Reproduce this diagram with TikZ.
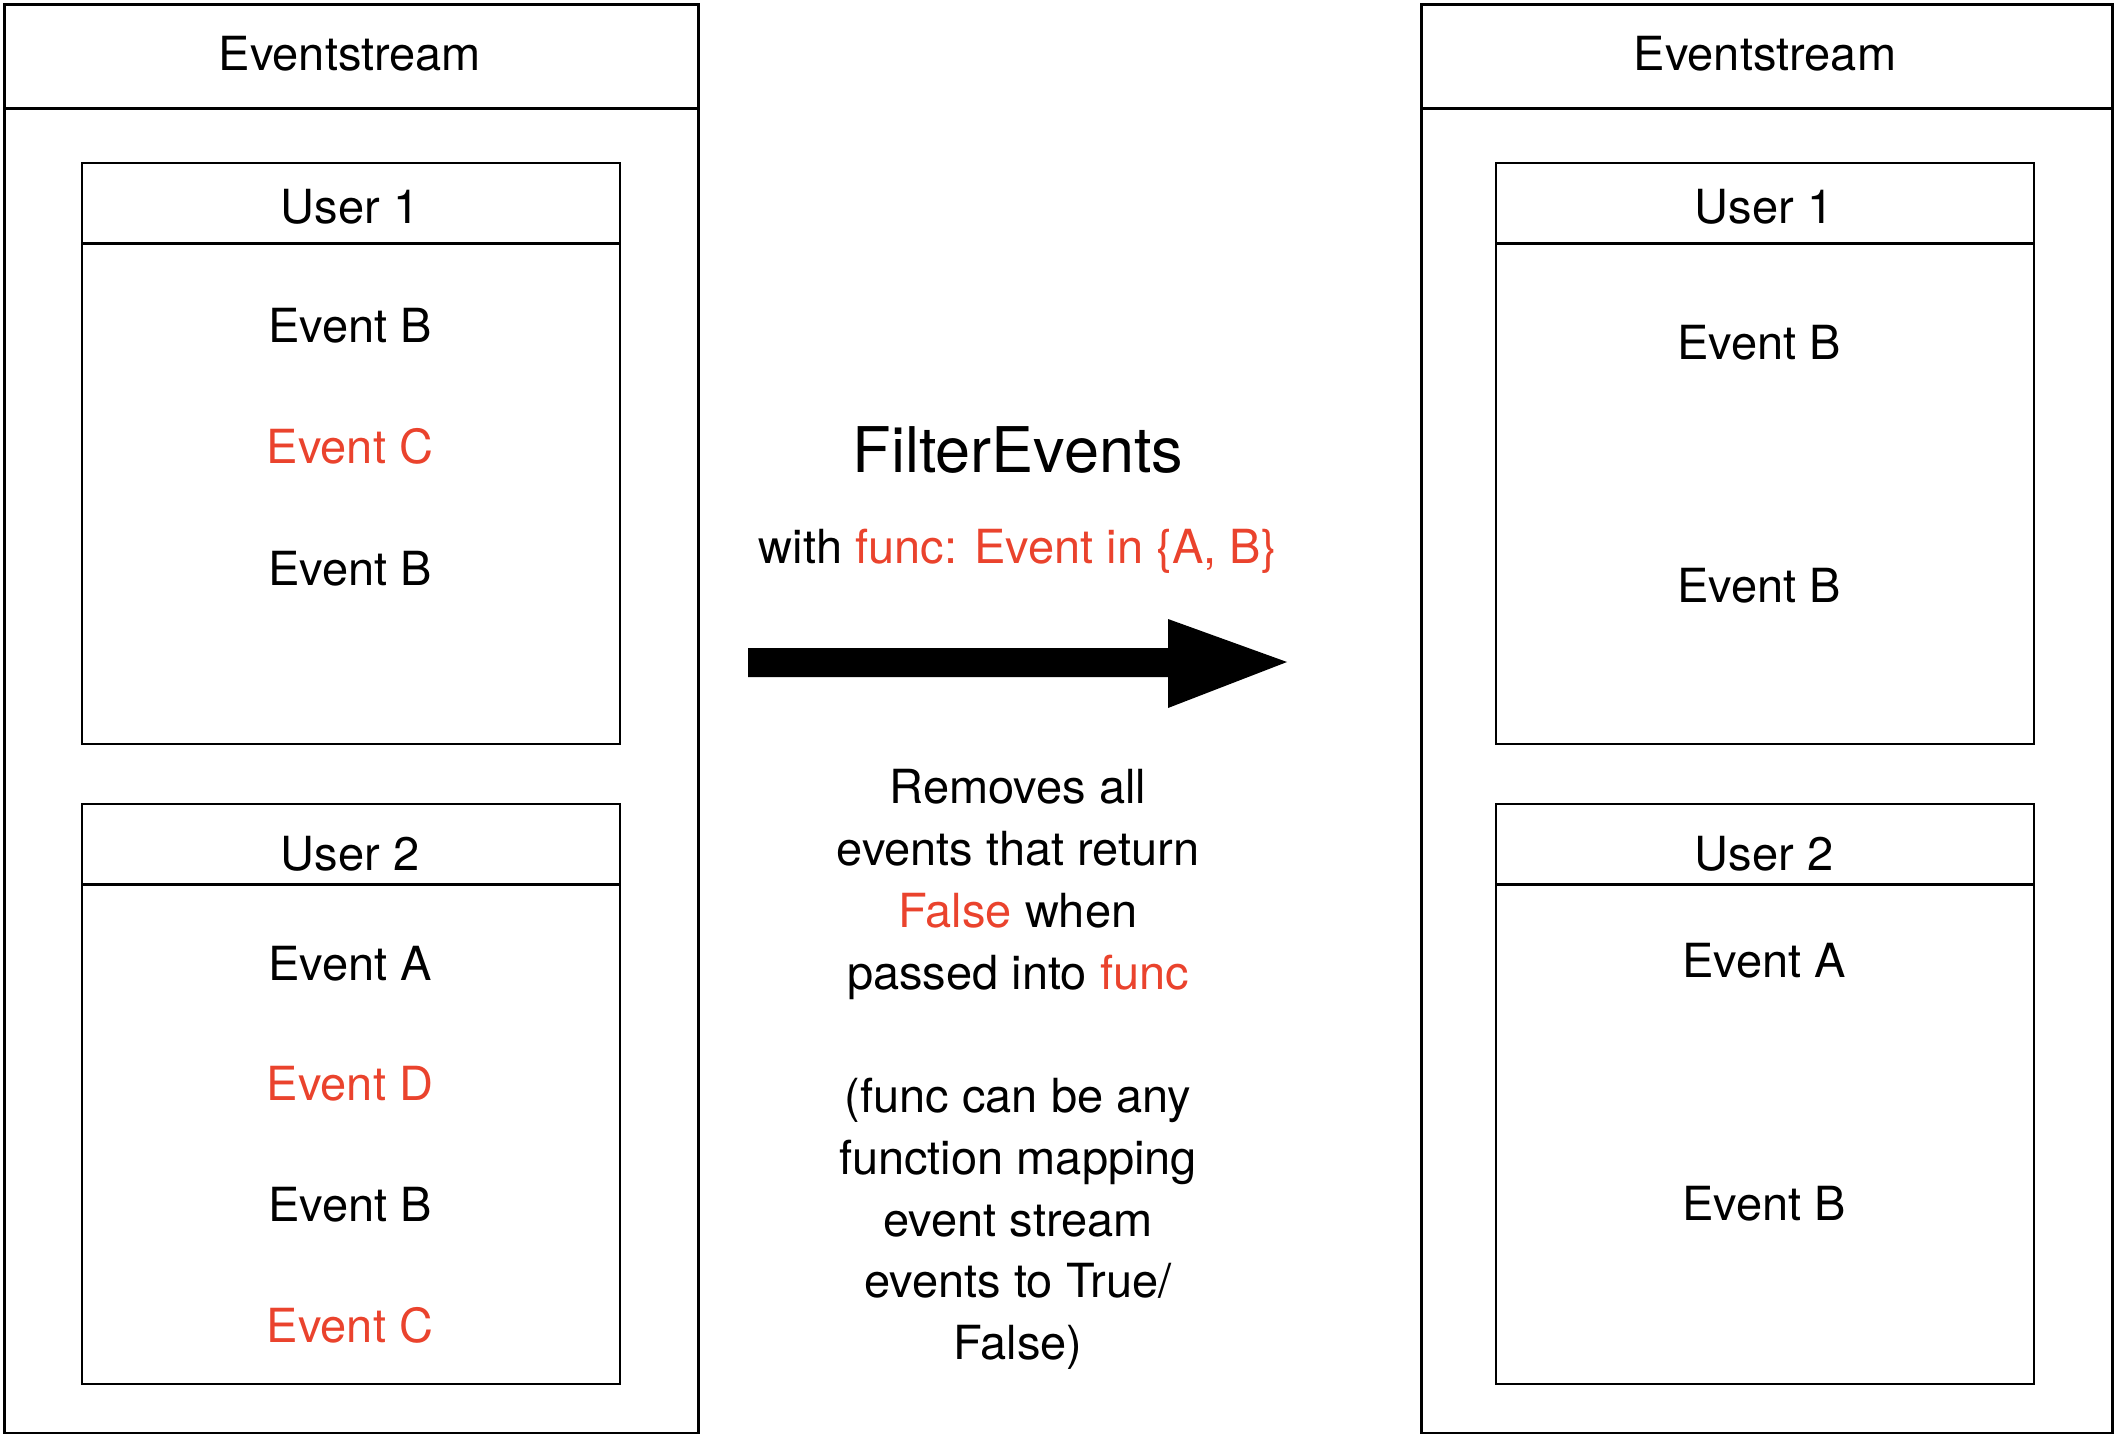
\documentclass[tikz,border=0pt]{standalone}
\usepackage{fontspec}
\setmainfont{TeX Gyre Heros}
\definecolor{evred}{RGB}{234,67,45}
\begin{document}
\begin{tikzpicture}[x=1pt,y=-1pt,
  outerbox/.style={draw=black, line width=2.6pt, inner sep=0pt, anchor=north west},
  innerbox/.style={draw=black, line width=2.2pt, inner sep=0pt, anchor=north west},
  hdrline/.style={line width=3pt},
  lbl/.style={inner sep=0pt, anchor=base, font=\fontsize{47pt}{56pt}\selectfont},
  big/.style={inner sep=0pt, anchor=base, font=\fontsize{63pt}{70pt}\selectfont}]
\useasboundingbox (0,0) rectangle (2114,1434);
% outer boxes
\node[outerbox, minimum width=694pt, minimum height=1429pt] (lout) at (3,3) {};
\node[outerbox, minimum width=691pt, minimum height=1429pt] (rout) at (1420,3) {};
\draw[hdrline] (3,109) -- (697,109);
\draw[hdrline] (1420,109) -- (2111,109);
\node[lbl] (lt) at (350,71) {Eventstream};
\node[lbl] (rt) at (1765,71) {Eventstream};
% inner boxes left
\node[innerbox, minimum width=538pt, minimum height=581pt] (lu1) at (81,162) {};
\node[innerbox, minimum width=538pt, minimum height=580pt] (lu2) at (81,803) {};
\draw[hdrline] (81,243) -- (619,243);
\draw[hdrline] (81,884) -- (619,884);
% inner boxes right
\node[innerbox, minimum width=538pt, minimum height=581pt] (ru1) at (1495,162) {};
\node[innerbox, minimum width=538pt, minimum height=580pt] (ru2) at (1495,803) {};
\draw[hdrline] (1495,243) -- (2033,243);
\draw[hdrline] (1495,884) -- (2033,884);
% left labels
\node[lbl] (lu1t) at (350,223) {User 1};
\node[lbl] (lu2t) at (350,870) {User 2};
\node[lbl] (le1) at (350,342) {Event B};
\node[lbl, text=evred] (le2) at (350,463) {Event C};
\node[lbl] (le3) at (350,585) {Event B};
\node[lbl] (le4) at (350,980) {Event A};
\node[lbl, text=evred] (le5) at (350,1100) {Event D};
\node[lbl] (le6) at (350,1221) {Event B};
\node[lbl, text=evred] (le7) at (350,1342) {Event C};
% right labels
\node[lbl] (ru1t) at (1764,223) {User 1};
\node[lbl] (ru2t) at (1764,870) {User 2};
\node[lbl] (re1) at (1759,359) {Event B};
\node[lbl] (re2) at (1759,602) {Event B};
\node[lbl] (re3) at (1764,977) {Event A};
\node[lbl] (re4) at (1764,1220) {Event B};
% middle
\node[big] (fe) at (1018,472) {FilterEvents};
\node[lbl] (fw) at (1018,563) {with \textcolor{evred}{func: Event in \{A, B\}}};
\fill (748,648) -- (1168,648) -- (1168,619) -- (1287,662) -- (1168,708) -- (1168,677) -- (748,677) -- cycle;
\node[lbl] (d1) at (1018,803) {Removes all};
\node[lbl] (d2) at (1018,865) {events that return};
\node[lbl] (d3) at (1018,927) {\textcolor{evred}{False} when};
\node[lbl] (d4) at (1018,989) {passed into \textcolor{evred}{func}};
\node[lbl] (d5) at (1018,1112) {(func can be any};
\node[lbl] (d6) at (1018,1174) {function mapping};
\node[lbl] (d7) at (1018,1236) {event stream};
\node[lbl] (d8) at (1018,1297) {events to True/};
\node[lbl] (d9) at (1018,1359) {False)};
\end{tikzpicture}
\end{document}
